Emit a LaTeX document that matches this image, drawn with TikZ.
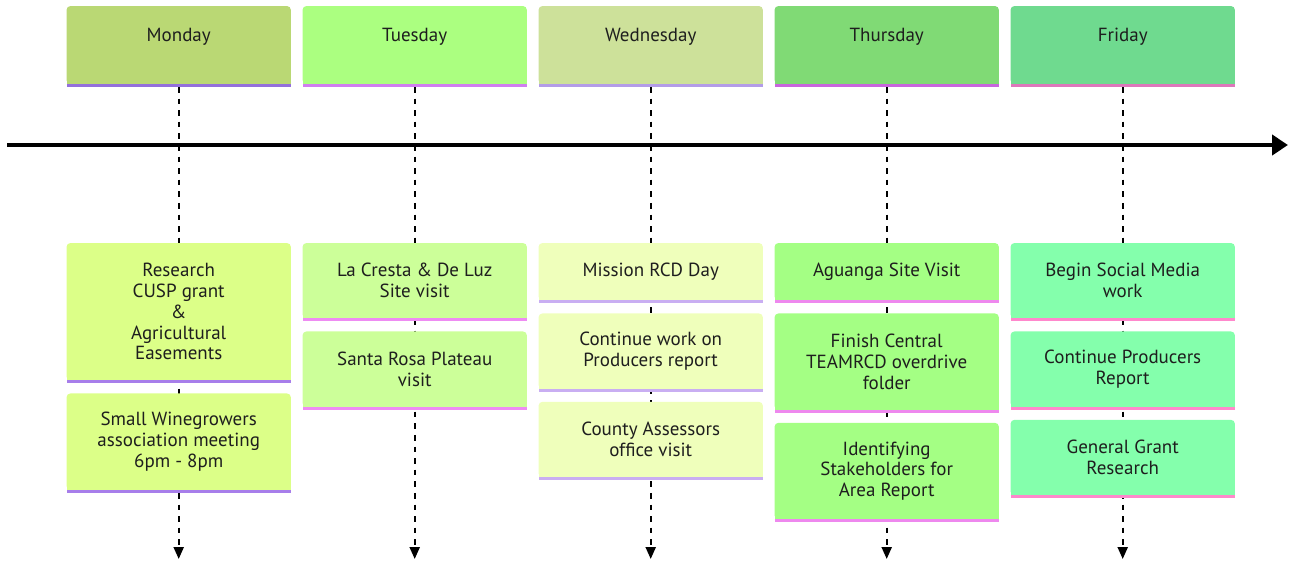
\documentclass[tikz,border=0pt]{standalone}
\usepackage{fontspec}
\setmainfont{PT Sans}
\usetikzlibrary{arrows.meta,positioning,backgrounds}

% section palette: header fill, header rule, task fill, task rule
\definecolor{monH}{HTML}{BAD874}\definecolor{monB}{HTML}{9370DB}
\definecolor{monT}{HTML}{DCFF88}\definecolor{monTB}{HTML}{A77EEA}
\definecolor{tueH}{HTML}{ABFF80}\definecolor{tueB}{HTML}{D07EF0}
\definecolor{tueT}{HTML}{CCFF99}\definecolor{tueTB}{HTML}{EE8CF2}
\definecolor{wedH}{HTML}{CDE19A}\definecolor{wedB}{HTML}{B39CE8}
\definecolor{wedT}{HTML}{EFFFBB}\definecolor{wedTB}{HTML}{C9AEF2}
\definecolor{thuH}{HTML}{80DA75}\definecolor{thuB}{HTML}{C866DD}
\definecolor{thuT}{HTML}{A4FF84}\definecolor{thuTB}{HTML}{EE88EE}
\definecolor{friH}{HTML}{6FDA8F}\definecolor{friB}{HTML}{DD77BB}
\definecolor{friT}{HTML}{84FFAC}\definecolor{friTB}{HTML}{FF88CC}
\definecolor{ink}{HTML}{1E1E1E}

% card background: rounded top corners, square bottom, coloured rule underneath
\newcommand{\cardbg}[3]{%
  \fill[#2, rounded corners=4pt] (#1.south west) rectangle (#1.north east);
  \fill[#2] (#1.south west) rectangle (#1.east);
  \fill[#3] (#1.south west) rectangle ([yshift=-3pt]#1.south east);
}

\begin{document}
\begin{tikzpicture}[x=1pt, y=-1pt,
  every node/.style={font=\fontsize{19}{20.8}\selectfont, text=ink},
  dayhead/.style={inner sep=0pt, minimum width=224pt, text height=35.5pt, text depth=42pt, anchor=north},
  task/.style={inner sep=0pt, minimum width=224pt, align=center, anchor=north},
  tall1/.style={task, minimum height=57pt},
  tall2/.style={task, minimum height=75pt},
  tall3/.style={task, minimum height=96pt},
  tall5/.style={task, minimum height=137pt},
  node distance=13pt,
  guide/.style={line width=2.2pt, dash pattern=on 5.6pt off 6pt, -{Triangle[length=12pt, width=10pt]}},
  axis/.style={line width=4pt, -{Triangle[length=16pt, width=20pt]}}
]
\useasboundingbox (0,0) rectangle (1289,560);

% day headers
\node[dayhead] (mon) at (178.7,6) {Monday};
\node[dayhead] (tue) at (414.7,6) {Tuesday};
\node[dayhead] (wed) at (650.7,6) {Wednesday};
\node[dayhead] (thu) at (886.7,6) {Thursday};
\node[dayhead] (fri) at (1122.7,6) {Friday};

% Monday
\node[tall5] (mon1) at (178.7,243) {Research\\CUSP grant\\\&\\Agricultural\\Easements};
\node[tall3, below=of mon1] (mon2) {Small Winegrowers\\association meeting\\6pm - 8pm};
% Tuesday
\node[tall2] (tue1) at (414.7,243) {La Cresta \& De Luz\\Site visit};
\node[tall2, below=of tue1] (tue2) {Santa Rosa Plateau\\visit};
% Wednesday
\node[tall1] (wed1) at (650.7,243) {Mission RCD Day};
\node[tall2, below=of wed1] (wed2) {Continue work on\\Producers report};
\node[tall2, below=of wed2] (wed3) {County Assessors\\office visit};
% Thursday
\node[tall1] (thu1) at (886.7,243) {Aguanga Site Visit};
\node[tall3, below=of thu1] (thu2) {Finish Central\\TEAMRCD overdrive\\folder};
\node[tall3, below=of thu2] (thu3) {Identifying\\Stakeholders for\\Area Report};
% Friday
\node[tall2] (fri1) at (1122.7,243) {Begin Social Media\\work};
\node[tall2, below=of fri1] (fri2) {Continue Producers\\Report};
\node[tall2, below=of fri2] (fri3) {General Grant\\Research};

% ends of the guides and of the time axis
\coordinate (monEnd) at (178.7,559);
\coordinate (tueEnd) at (414.7,559);
\coordinate (wedEnd) at (650.7,559);
\coordinate (thuEnd) at (886.7,559);
\coordinate (friEnd) at (1122.7,559);
\coordinate (axisStart) at (7,145);
\coordinate (axisEnd) at (1288,145);

\begin{scope}[on background layer]
  \foreach \d in {mon,tue,wed,thu,fri}
    \draw[guide] ([yshift=-3pt]\d.south) -- (\d End);
  \draw[axis] (axisStart) -- (axisEnd);

  \cardbg{mon}{monH}{monB}
  \cardbg{tue}{tueH}{tueB}
  \cardbg{wed}{wedH}{wedB}
  \cardbg{thu}{thuH}{thuB}
  \cardbg{fri}{friH}{friB}

  \cardbg{mon1}{monT}{monTB}\cardbg{mon2}{monT}{monTB}
  \cardbg{tue1}{tueT}{tueTB}\cardbg{tue2}{tueT}{tueTB}
  \cardbg{wed1}{wedT}{wedTB}\cardbg{wed2}{wedT}{wedTB}\cardbg{wed3}{wedT}{wedTB}
  \cardbg{thu1}{thuT}{thuTB}\cardbg{thu2}{thuT}{thuTB}\cardbg{thu3}{thuT}{thuTB}
  \cardbg{fri1}{friT}{friTB}\cardbg{fri2}{friT}{friTB}\cardbg{fri3}{friT}{friTB}
\end{scope}
\end{tikzpicture}
\end{document}
